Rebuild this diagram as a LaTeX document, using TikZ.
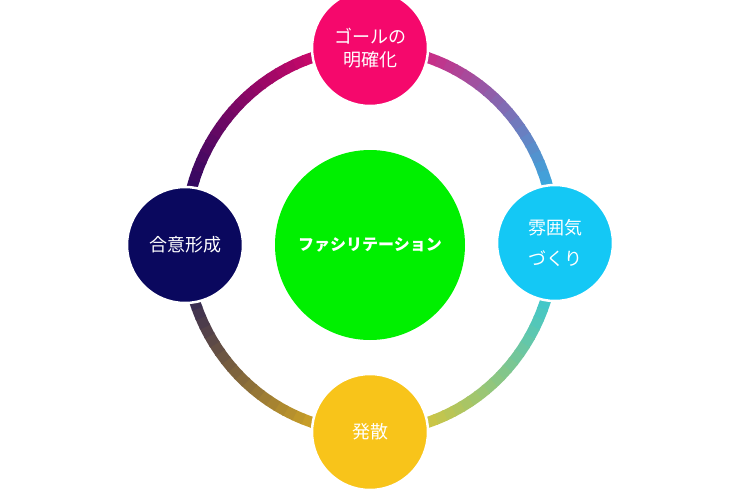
\documentclass[tikz,border=0pt]{standalone}
\usepackage{fontspec}
\usetikzlibrary{calc}
\setmainfont{Noto Sans CJK JP}
\begin{document}
\begin{tikzpicture}[x=1pt,y=-1pt,
  small/.style={circle,draw=white,line width=2.5pt,minimum size=116pt,inner sep=0pt,text=white,font=\fontsize{18}{23}\selectfont,align=center}]
\useasboundingbox (0,0) rectangle (740,496);
\definecolor{cT}{HTML}{F5086C}
\definecolor{cR}{HTML}{14C8F5}
\definecolor{cB}{HTML}{F8C41A}
\definecolor{cL}{HTML}{0A085E}
\definecolor{cC}{HTML}{00F000}
\coordinate (o) at (370,240);
\draw[white,line width=16pt] (o) ellipse [x radius=185,y radius=192];
\foreach \a/\b/\ca/\cb in {90/0/cT/cR, 0/-90/cR/cB, -90/-180/cB/cL, -180/-270/cL/cT}{
  \foreach \i in {0,...,29}{
    \pgfmathsetmacro\p{100-\i*100/29}
    \pgfmathsetmacro\s{\a+(\b-\a)*\i/30}
    \pgfmathsetmacro\e{\a+(\b-\a)*(\i+1.15)/30}
    \draw[\ca!\p!\cb,line width=11pt] ($(o)+({185*cos(\s)},{-192*sin(\s)})$) arc[start angle=\s,end angle=\e,x radius=185,y radius=-192];
  }
}
\node[circle,fill=cC,minimum size=190pt,inner sep=0pt,text=white,font=\bfseries\fontsize{16}{19}\selectfont] (c) at (370,245) {ファシリテーション};
\node[small,fill=cT] (t) at (370,48) {ゴールの\\明確化};
\node[small,fill=cR,font=\fontsize{18}{31}\selectfont] (r) at (555,243) {雰囲気\\づくり};
\node[small,fill=cB] (b) at (370,432) {発散};
\node[small,fill=cL] (l) at (185,245) {合意形成};
\end{tikzpicture}
\end{document}
